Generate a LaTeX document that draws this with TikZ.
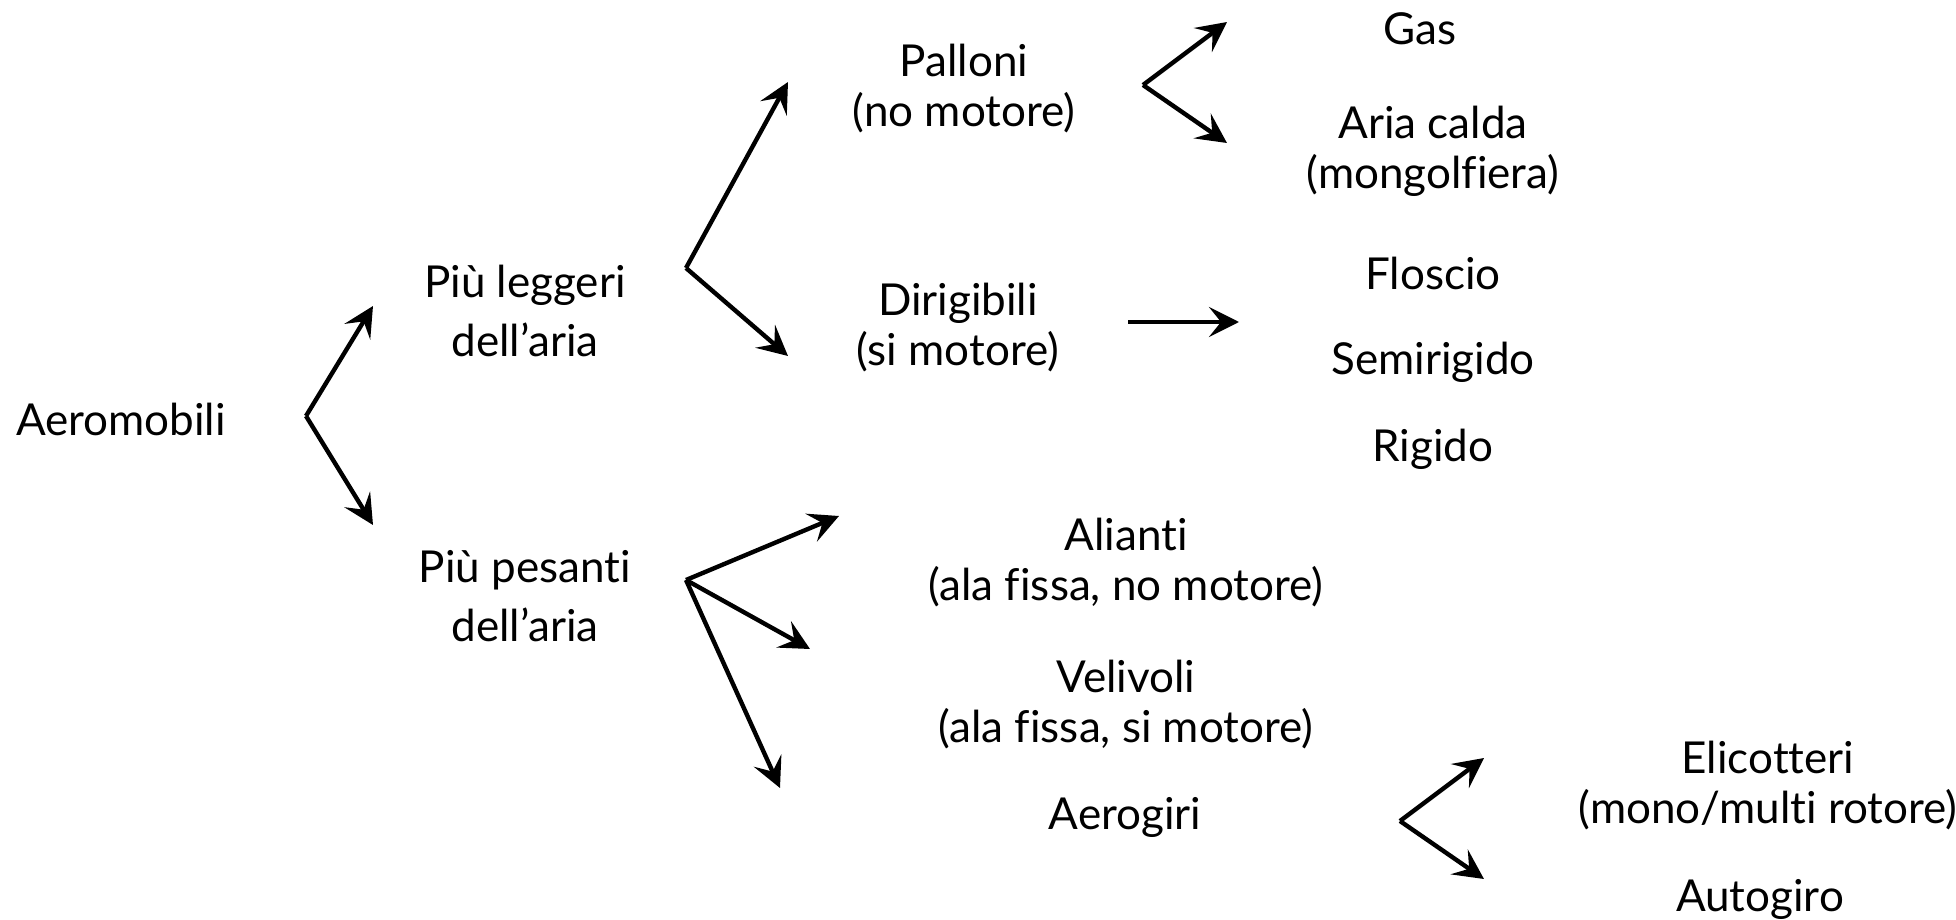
\documentclass[tikz,border=0pt]{standalone}
\usepackage{fontspec}
\setmainfont{Lato}[Ligatures=NoCommon]
\usetikzlibrary{arrows.meta}
\begin{document}
\begin{tikzpicture}[x=0.5pt,y=-0.5pt,
  lbl/.style={align=center,inner sep=0pt,font=\fontsize{22}{25}\selectfont},
  wide/.style={font=\fontsize{22}{29.5}\selectfont},
  arr/.style={line width=2.2pt,-{Stealth[length=15pt,width=15pt,inset=6pt]}}]
\useasboundingbox (0,0) rectangle (1956,920);
% labels
\node[lbl] (aero) at (121,419) {Aeromobili};
\node[lbl,wide] (leg) at (525,311) {Più leggeri\\dell’aria};
\node[lbl,wide] (pes) at (525,596) {Più pesanti\\dell’aria};
\node[lbl] (pal) at (964,89) {Palloni\\(no motore)};
\node[lbl] (dir) at (958,328) {Dirigibili\\(si motore)};
\node[lbl] (gas) at (1420,29) {Gas};
\node[lbl] (aria) at (1433,151) {Aria calda\\(mongolfiera)};
\node[lbl] (flo) at (1433,273) {Floscio};
\node[lbl] (semi) at (1433,362) {Semirigido};
\node[lbl] (rig) at (1433,449) {Rigido};
\node[lbl] (ali) at (1126,563) {Alianti\\(ala fissa, no motore)};
\node[lbl] (vel) at (1126,705) {Velivoli\\(ala fissa, si motore)};
\node[lbl] (agi) at (1125,817) {Aerogiri};
\node[lbl] (eli) at (1768,786) {Elicotteri\\(mono/multi rotore)};
\node[lbl] (auto) at (1760,899) {Autogiro};
% arrow coordinates
\coordinate (a0) at (306,416);
\coordinate (a1) at (373,306);
\coordinate (a2) at (373,525);
\coordinate (l0) at (686,268);
\coordinate (l1) at (788,82);
\coordinate (l2) at (788,356);
\coordinate (p0) at (1143,85);
\coordinate (p1) at (1227,22);
\coordinate (p2) at (1227,143);
\coordinate (d0) at (1128,322);
\coordinate (d1) at (1239,322);
\coordinate (s0) at (686,580);
\coordinate (s1) at (839,516);
\coordinate (s2) at (810,649);
\coordinate (s3) at (780,788);
\coordinate (g0) at (1400,821);
\coordinate (g1) at (1484,758);
\coordinate (g2) at (1484,879);
% arrows
\draw[arr] (a0) -- (a1);
\draw[arr] (a0) -- (a2);
\draw[arr] (l0) -- (l1);
\draw[arr] (l0) -- (l2);
\draw[arr] (p0) -- (p1);
\draw[arr] (p0) -- (p2);
\draw[arr] (d0) -- (d1);
\draw[arr] (s0) -- (s1);
\draw[arr] (s0) -- (s2);
\draw[arr] (s0) -- (s3);
\draw[arr] (g0) -- (g1);
\draw[arr] (g0) -- (g2);
\end{tikzpicture}
\end{document}
